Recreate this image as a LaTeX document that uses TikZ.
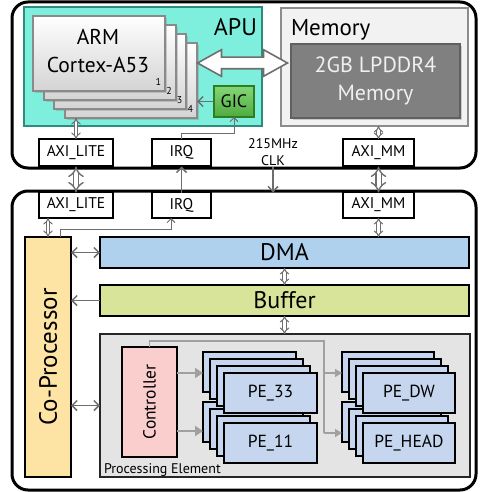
\documentclass[tikz,border=0pt]{standalone}
\usepackage{fontspec}
\setmainfont{PT Sans}
\usetikzlibrary{arrows.meta,shadows,shapes.arrows,calc}
\definecolor{apufill}{HTML}{7FEFDD}
\definecolor{apuborder}{HTML}{2E8C7E}
\definecolor{cardborder}{HTML}{8A8A8A}
\definecolor{gicfill}{HTML}{5CC94A}
\definecolor{gicborder}{HTML}{2E7D1F}
\definecolor{memfill}{HTML}{F2F2F2}
\definecolor{memborder}{HTML}{8C8C8C}
\definecolor{ddrfill}{HTML}{808080}
\definecolor{ddrborder}{HTML}{606060}
\definecolor{cofill}{HTML}{FDE4A5}
\definecolor{dmafill}{HTML}{AFD1EE}
\definecolor{buffill}{HTML}{D7E49A}
\definecolor{pefill}{HTML}{E4E4E4}
\definecolor{ctrlfill}{HTML}{F9CECC}
\definecolor{pecard}{HTML}{C6D6EE}
\definecolor{arr}{HTML}{6E6E6E}
\definecolor{lightarr}{HTML}{A0A0A0}
\newcommand\myfs[1]{\fontsize{#1}{#1}\selectfont}
\begin{document}
\begin{tikzpicture}[x=1pt,y=-1pt,
  every node/.style={inner sep=0pt, outer sep=0pt},
  outerbox/.style={draw=black, line width=3pt, rounded corners=16pt},
  busbox/.style={draw=black, line width=2pt, fill=white, font=\myfs{15.5}},
  armcard/.style={draw=cardborder, line width=2pt, top color=white, bottom color=black!17,
     drop shadow={opacity=0.35, shadow xshift=2pt, shadow yshift=-2pt}},
  cardnum/.style={font=\myfs{10}, anchor=base east},
  blockbox/.style={draw=black, line width=1.6pt},
  pecardbox/.style={draw=black, line width=1.5pt, fill=pecard, font=\myfs{17.5}},
  fatdbl/.style={draw=arr, double=white, line width=1.4pt, double distance=4pt, {Implies}-{Implies}},
  smalldbl/.style={draw=arr, double=white, line width=1pt, double distance=2.2pt, {Implies}-{Implies}},
  barb/.style={draw=arr, line width=1.5pt, -{Straight Barb[length=5pt,width=10pt]}},
  barbboth/.style={draw=arr, line width=1.5pt, {Straight Barb[length=5pt,width=10pt]}-{Straight Barb[length=5pt,width=10pt]}},
  thinbarb/.style={draw=arr, line width=1pt, -{Straight Barb[length=4pt,width=8pt]}},
  ctrlarrow/.style={draw=lightarr, line width=2pt, -{Triangle[length=8pt,width=10pt]}},
  lightline/.style={draw=lightarr, line width=1.5pt},
]
\useasboundingbox (0,0) rectangle (479,492);

% ---------- top outer box ----------
\node[outerbox, minimum width=464pt, minimum height=166pt] (top) at (244,85) {};
% APU
\node[draw=apuborder, fill=apufill, line width=2pt, minimum width=238pt, minimum height=119pt] (apu) at (143,66.5) {};
\node[anchor=base east, font=\myfs{24}] (apulabel) at (257,36) {APU};
% ARM cards
\foreach \i in {3,2,1,0} {
  \pgfmathsetmacro{\cx}{99+10.7*\i}
  \pgfmathsetmacro{\cy}{53.5+9*\i}
  \node[armcard, minimum width=132pt, minimum height=75pt] (card\i) at (\cx,\cy) {};
}
\node[cardnum] (n1) at ($(card0.south east)+(-4,-5)$) {1};
\node[cardnum] (n2) at ($(card1.south east)+(-4,-5)$) {2};
\node[cardnum] (n3) at ($(card2.south east)+(-4,-5)$) {3};
\node[cardnum] (n4) at ($(card3.south east)+(-4,-5)$) {4};
\node[anchor=base, font=\myfs{21.5}] (arm) at (98,45) {ARM};
\node[anchor=base, font=\myfs{21.5}] (cortex) at (98,73) {Cortex-A53};
% GIC
\node[draw=gicborder, line width=1.5pt, top color=gicfill!75!white, bottom color=gicfill!85!black, minimum width=40pt, minimum height=31pt, font=\myfs{18}] (gic) at (234,101.5) {GIC};
\draw[barb] (gic.west) -- (gic.west -| card3.east);

% Memory
\node[draw=memborder, fill=memfill, line width=2pt, minimum width=187pt, minimum height=118pt] (mem) at (374.5,67) {};
\node[anchor=base west, font=\myfs{23}] (memlabel) at (291,36) {Memory};
\node[draw=ddrborder, fill=ddrfill, line width=1.5pt, minimum width=169pt, minimum height=74pt,
  drop shadow={opacity=0.35, shadow xshift=2pt, shadow yshift=-2pt}] (ddr) at (375.5,81) {};
\node[anchor=base, font=\myfs{22}, text=white!94!black] (ddr1) at (ddr.center |- 0,73) {2GB LPDDR4};
\node[anchor=base, font=\myfs{22}, text=white!94!black] (ddr2) at (ddr.center |- 0,101) {Memory};

% big hollow double arrow
\node[double arrow, draw=arr, fill=white, line width=1.6pt, minimum height=90pt, minimum width=25pt,
  inner xsep=0pt, inner ysep=5pt, double arrow head extend=7.5pt, double arrow tip angle=58] (bigarrow) at (242.5,63) {};

% top bus boxes
\node[busbox, minimum width=74pt, minimum height=27pt] (axiltop) at (76,152.5) {AXI\_LITE};
\node[busbox, minimum width=59pt, minimum height=27pt] (irqtop) at (181.5,152.5) {IRQ};
\node[busbox, minimum width=71pt, minimum height=27pt] (aximmtop) at (378.5,152.5) {AXI\_MM};
\node[anchor=base, font=\myfs{14}] (mhz) at (273,148) {215MHz};
\node[anchor=base, font=\myfs{14}] (clk) at (273,165) {CLK};

\draw[smalldbl] (axiltop.north) -- (axiltop.north |- card3.south);
\draw[thinbarb] (irqtop.north) -- ++(0,-6) -| (gic.south);
\draw[smalldbl] (aximmtop.north) -- (aximmtop.north |- mem.south);

% ---------- bottom outer box ----------
\node[outerbox, minimum width=464pt, minimum height=299pt] (bottom) at (244,340.5) {};
\node[busbox, minimum width=74pt, minimum height=26pt] (axilbot) at (76,205) {AXI\_LITE};
\node[busbox, minimum width=59pt, minimum height=26pt] (irqbot) at (181.5,205) {IRQ};
\node[busbox, minimum width=71pt, minimum height=26pt] (aximmbot) at (378.5,205) {AXI\_MM};

% between boxes
\draw[fatdbl] ([yshift=1.5pt]top.south -| axiltop.south) -- ([yshift=-1.5pt]bottom.north -| axiltop.south);
\draw[barb] ([yshift=-1.5pt]bottom.north -| irqtop.south) -- ([yshift=1.5pt]top.south -| irqtop.south);
\coordinate (clkA) at ([yshift=1.5pt]top.south -| mhz.south);
\coordinate (clkB) at ([yshift=-1.5pt]bottom.north -| mhz.south);
\draw[barb] (clkA) -- (clkB);
\draw[fatdbl] ([yshift=1.5pt]top.south -| aximmtop.south) -- ([yshift=-1.5pt]bottom.north -| aximmtop.south);

% co-processor
\node[blockbox, fill=cofill, minimum width=46pt, minimum height=240pt] (cop) at (48,357) {};
\node[rotate=90, font=\myfs{25}] (coplabel) at (cop.center) {Co-Processor};
% DMA, Buffer
\node[blockbox, fill=dmafill, minimum width=369pt, minimum height=31pt, font=\myfs{24}] (dma) at (284.5,252.5) {DMA};
\node[blockbox, fill=buffill, minimum width=369pt, minimum height=31pt, font=\myfs{24}] (buf) at (284.5,300.5) {Buffer};
% PE box
\node[draw=black!85, line width=1.5pt, fill=pefill, minimum width=370pt, minimum height=143pt] (pebox) at (285,405.5) {};
\node[anchor=base west, font=\myfs{14}] (pelabel) at (104,473) {Processing Element};

\draw[smalldbl] (cop.north) -- (cop.north |- axilbot.south);
\draw[thinbarb] ([xshift=12pt]cop.north) -- ++(0,-8) -| ([xshift=-10.5pt]irqbot.south);
\draw[smalldbl] (aximmbot.south) -- (aximmbot.south |- dma.north);
\draw[smalldbl] (dma.south) -- (buf.north);
\draw[smalldbl] (buf.south) -- (buf.south |- pebox.north);
\draw[barbboth] (dma.west) -- (dma.west -| cop.east);
\draw[barb] (buf.west) -- (buf.west -| cop.east);
\draw[barbboth] (pebox.west) -- (pebox.west -| cop.east);

% controller
\node[draw=black, line width=1.5pt, fill=ctrlfill, minimum width=55pt, minimum height=110pt] (ctrl) at (149.5,402) {};
\node[rotate=90, font=\myfs{17.5}] (ctrllabel) at (ctrl.center) {Controller};

% PE stacks (lower first)
\foreach \nm/\bx/\by/\w/\txt in {pel/203/402/93/PE\_11, phl/342/402/92/PE\_HEAD, peu/203/352/93/PE\_33, phu/342/352/92/PE\_DW} {
  \foreach \k in {0,1,2,3} {
    \pgfmathsetmacro{\cx}{\bx+7*\k+\w/2}
    \pgfmathsetmacro{\cy}{\by+7*\k+20}
    \node[pecardbox, minimum width=\w pt, minimum height=40pt] (\nm\k) at (\cx,\cy) {\ifnum\k=3 \txt\fi};
  }
}
% controller arrows
\draw[ctrlarrow] (ctrl.east |- 0,373) -- (peu0.west |- 0,373);
\draw[ctrlarrow] (ctrl.east |- 0,431) -- (pel0.west |- 0,431);
% light distribution line
\coordinate (split) at (324,341);
\draw[lightline] ([xshift=0pt]ctrl.north) |- (split) -- (split |- 0,433);
\draw[lightline, -{Triangle[length=7pt,width=8pt]}] (split |- 0,373) -- (phu0.west |- 0,373);
\draw[lightline, -{Triangle[length=7pt,width=8pt]}] (split |- 0,433) -- (phl0.west |- 0,433);
\end{tikzpicture}
\end{document}
